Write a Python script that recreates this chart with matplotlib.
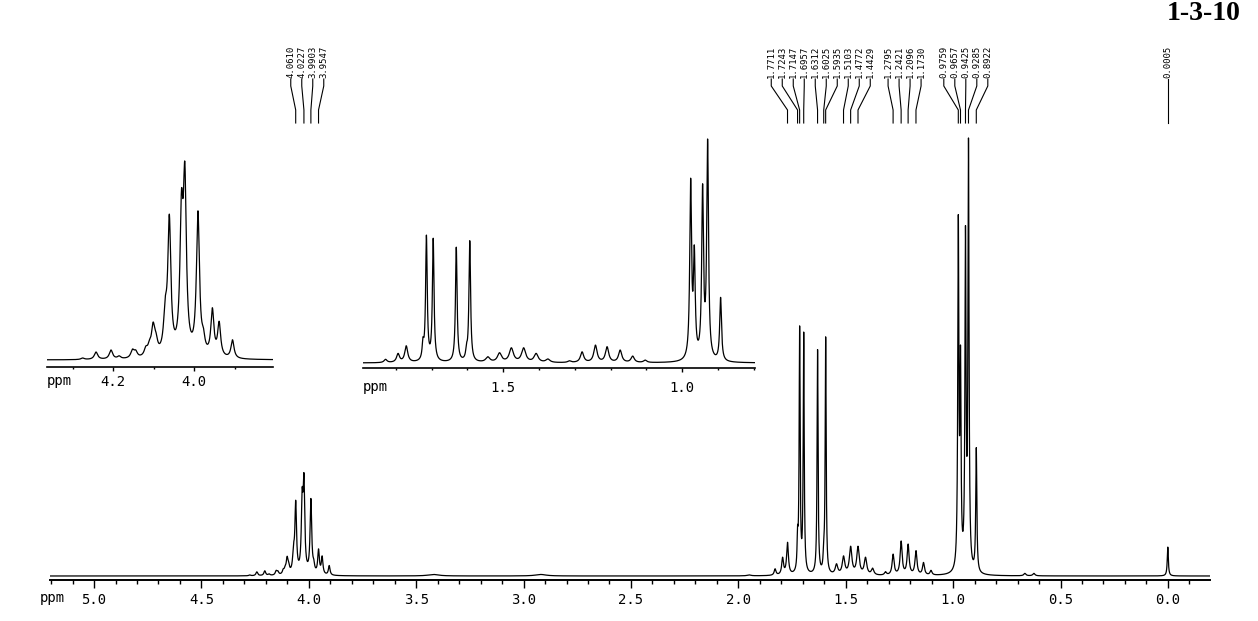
import numpy as np
import matplotlib
matplotlib.use('Agg')
import matplotlib.pyplot as plt
from matplotlib.lines import Line2D
from matplotlib.ticker import MultipleLocator, FormatStrFormatter

# lines: shift (ppm), apparent height (tallest = 100), half width (ppm)
shifts = [4.275, 4.242, 4.205, 4.185, 4.152, 4.144, 4.119, 4.110, 4.101, 4.094,
          4.071, 4.0610, 4.031, 4.0227, 3.9903, 3.977, 3.9547, 3.938, 3.905,
          3.42, 2.92, 1.95,
          1.829, 1.794, 1.7711, 1.7243, 1.7147, 1.6957, 1.6312, 1.6025, 1.5935,
          1.543, 1.5103, 1.4772, 1.4429, 1.408, 1.375,
          1.315, 1.2795, 1.2421, 1.2096, 1.1730, 1.138, 1.103,
          0.9759, 0.9657, 0.9425, 0.9285, 0.8922,
          0.666, 0.624, 0.0005]
heights = [0.24, 0.95, 1.19, 0.5, 1.3, 1.2, 1.66, 2.4, 4.5, 3.3,
           7.5, 17.3, 20.2, 23.5, 17.7, 3.9, 6.2, 4.6, 2.4,
           0.35, 0.35, 0.25,
           1.65, 4.3, 7.7, 11.6, 57.1, 55.7, 51.7, 9.0, 54.6,
           2.8, 4.6, 6.8, 6.8, 4.3, 1.8,
           1.0, 5.0, 8.0, 7.3, 5.8, 3.1, 1.3,
           82.5, 52.7, 80.0, 100.0, 29.3,
           0.6, 0.6, 6.6]
widths = [0.005] * 11 + [0.0045] * 4 + [0.0045] * 4 + \
         [0.03, 0.03, 0.01] + \
         [0.005, 0.005, 0.005] + [0.0027] * 6 + \
         [0.007] * 6 + [0.0055] * 7 + \
         [0.003] * 5 + [0.006, 0.006, 0.003]

# shifts printed above the spectrum
labelled = [4.0610, 4.0227, 3.9903, 3.9547,
            1.7711, 1.7243, 1.7147, 1.6957, 1.6312, 1.6025, 1.5935, 1.5103, 1.4772, 1.4429,
            1.2795, 1.2421, 1.2096, 1.1730,
            0.9759, 0.9657, 0.9425, 0.9285, 0.8922,
            0.0005]

W, H = 1258, 621
mono = 'DejaVu Sans Mono'

s = np.array(shifts)
g = np.array(widths)
A = g[None, :] ** 2 / ((s[:, None] - s[None, :]) ** 2 + g[None, :] ** 2)
amp = np.clip(np.linalg.solve(A, np.array(heights)), 0, None)

ppm = np.linspace(5.3, -0.3, 80000)
spec = (amp * g ** 2 / ((ppm[:, None] - s) ** 2 + g ** 2)).sum(axis=1)

fig = plt.figure(figsize=(W / 100, H / 100), dpi=100)


def box(x0, x1, ytop, ybot):
    return [x0 / W, (H - ybot) / H, (x1 - x0) / W, (ybot - ytop) / H]


def panel(rect, xlim, base_px, px_per_unit, major, tlen, pad, lw):
    ax = fig.add_axes(rect)
    ax.plot(ppm, spec, color='black', lw=0.9)
    ax.set_xlim(*xlim)
    height_px = rect[3] * H
    ax.set_ylim(-base_px / px_per_unit, (height_px - base_px) / px_per_unit)
    for side in ['top', 'left', 'right']:
        ax.spines[side].set_visible(False)
    ax.spines['bottom'].set_linewidth(lw)
    ax.set_yticks([])
    ax.xaxis.set_major_locator(MultipleLocator(major))
    ax.xaxis.set_minor_locator(MultipleLocator(0.1))
    ax.xaxis.set_major_formatter(FormatStrFormatter('%.1f'))
    ax.tick_params(axis='x', which='major', length=tlen, width=1, pad=pad,
                   labelsize=10)
    ax.tick_params(axis='x', which='minor', length=tlen * 0.5, width=1)
    for t in ax.get_xticklabels():
        t.set_family(mono)
    ax.patch.set_visible(False)
    return ax


main = panel(box(50, 1210, 130, 580), (5.205, -0.196), 4, 4.38, 0.5, 5.5, 4, 1.4)
ins1 = panel(box(47, 273, 150, 367), (4.363, 3.805), 7, 8.43, 0.2, 3, 2.5, 1.2)
ins2 = panel(box(363, 755, 130, 368), (1.892, 0.796), 5, 2.24, 0.5, 3, 6, 1.2)

fig.text(40 / W, 1 - 598 / H, 'ppm', family=mono, fontsize=10, va='center')
fig.text(47 / W, 1 - 381 / H, 'ppm', family=mono, fontsize=10, va='center')
fig.text(363 / W, 1 - 387 / H, 'ppm', family=mono, fontsize=10, va='center')
fig.text(1241 / W, 1 - 13 / H, '1-3-10', family='Liberation Serif',
         fontweight='bold', fontsize=20, ha='right', va='center')


# peak labels: spread the texts so they do not overlap, then draw leader lines
def to_px(v):
    x0, x1 = 5.205, -0.196
    return 50 + (x0 - v) / (x0 - x1) * (1210 - 50)


def spread(px, gap):
    groups = [[p] for p in px]
    while True:
        starts = [np.mean(gr) - (len(gr) - 1) * gap / 2 for gr in groups]
        for i in range(len(groups) - 1):
            if starts[i] + len(groups[i]) * gap > starts[i + 1]:
                groups[i:i + 2] = [groups[i] + groups[i + 1]]
                break
        else:
            break
    out = []
    for gr, st in zip(groups, starts):
        out += [st + k * gap for k in range(len(gr))]
    return out


peak_px = [to_px(v) for v in labelled]
label_px = spread(peak_px, 11)
for v, px, lx in zip(labelled, peak_px, label_px):
    fig.text(lx / W, 1 - 78 / H, '%.4f' % v, rotation=90, ha='center', va='bottom',
             family=mono, fontsize=6.5)
    ys = [79, 86, 110, 123]
    fig.add_artist(Line2D([lx / W, lx / W, px / W, px / W],
                          [1 - y / H for y in ys], color='black', lw=0.8,
                          transform=fig.transFigure))

fig.savefig('out.png', dpi=100)
